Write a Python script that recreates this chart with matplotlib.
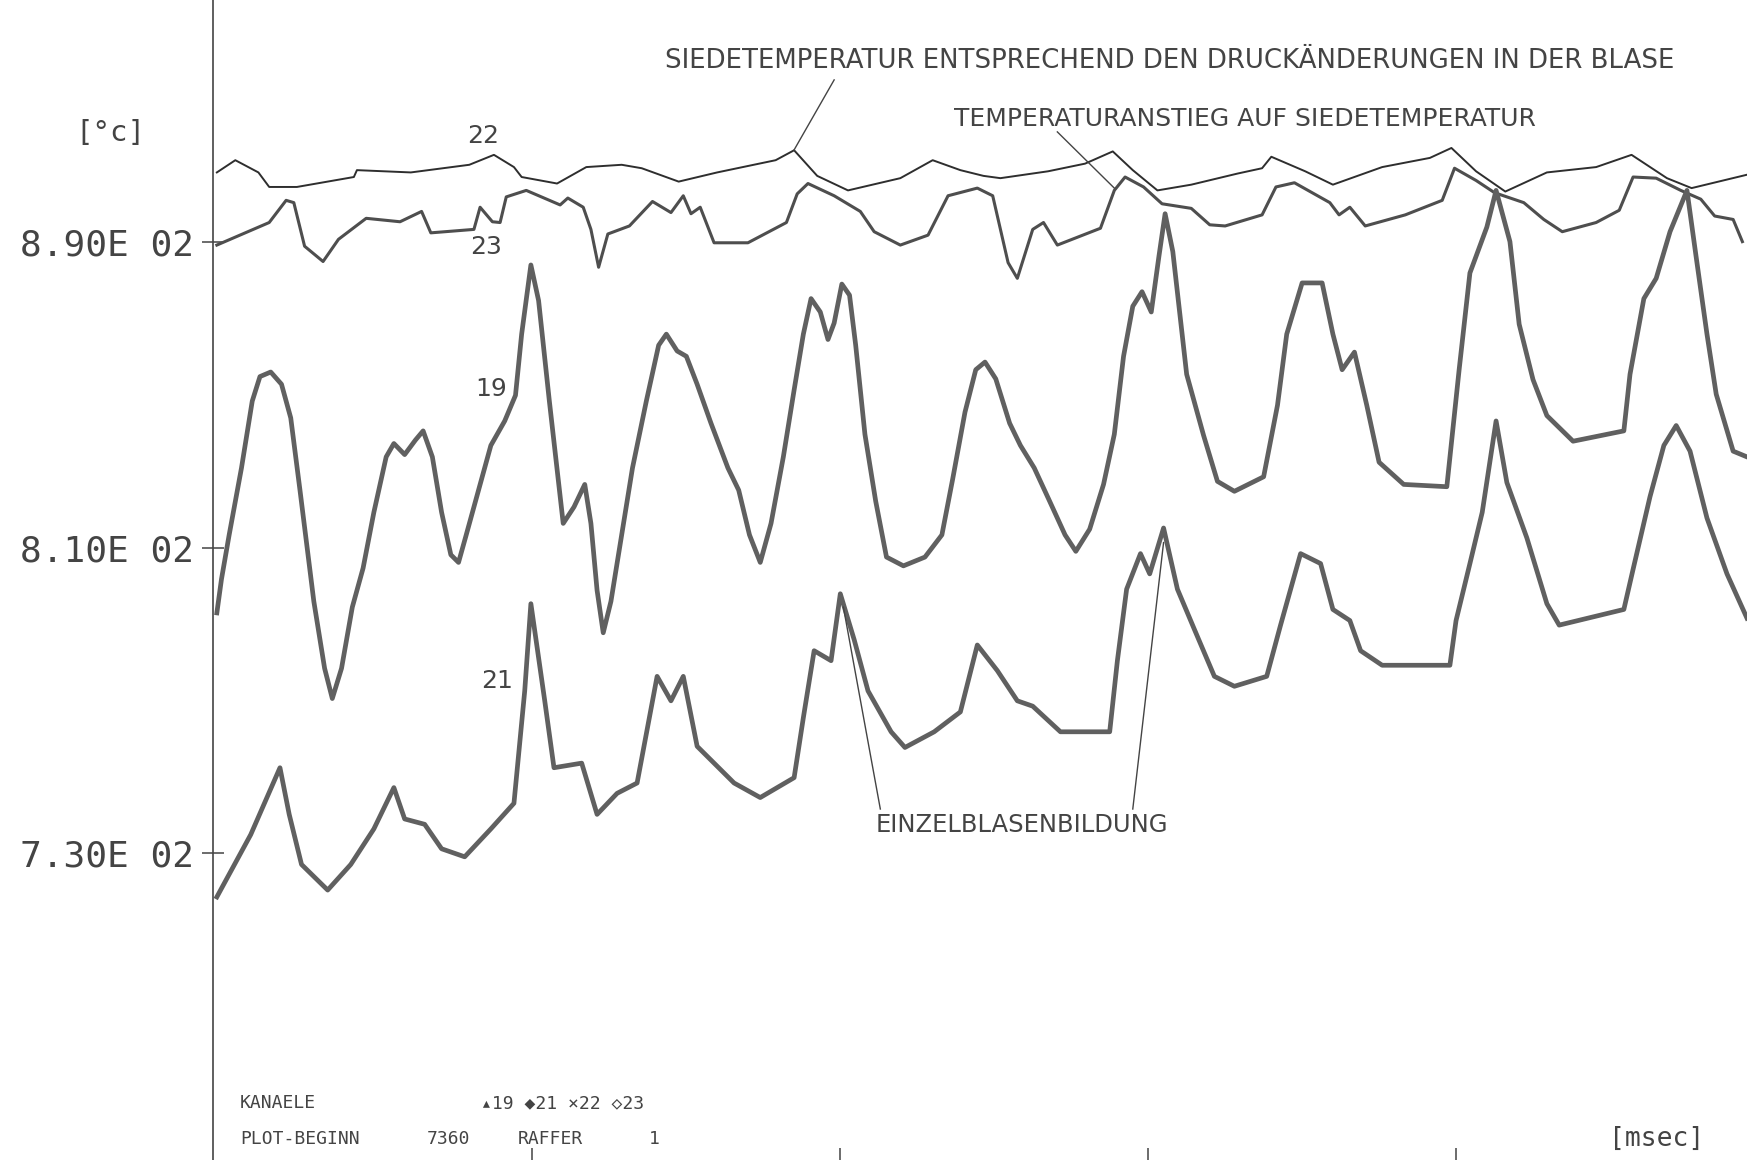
import matplotlib
matplotlib.use("Agg")
import matplotlib.pyplot as plt
from matplotlib import font_manager

# --- data (time in msec, temperature in degC) ---
t19 = [7359.5, 7359.8, 7360.3, 7361.1, 7361.8, 7362.3, 7363.0, 7363.7, 7364.3, 7364.9,
       7365.8, 7366.5, 7367.0, 7367.6, 7368.3, 7369.0, 7369.7, 7370.5, 7371.0, 7371.7,
       7372.4, 7372.9, 7373.5, 7374.1, 7374.7, 7375.2, 7375.7, 7376.5, 7377.3, 7378.2,
       7378.9, 7379.3, 7379.9, 7380.4, 7381.1, 7382.0, 7382.7, 7383.4, 7383.8, 7384.2,
       7384.6, 7385.1, 7385.8, 7386.5, 7387.4, 7388.2, 7388.7, 7389.4, 7390.0, 7390.7,
       7391.6, 7392.7, 7393.4, 7394.1, 7394.8, 7395.5, 7396.3, 7397.0, 7397.6, 7398.1,
       7398.7, 7399.2, 7399.6, 7400.1, 7400.6, 7401.0, 7401.6, 7402.3, 7403.0, 7404.1,
       7405.5, 7406.6, 7407.3, 7408.1, 7408.8, 7409.4, 7410.1, 7411.0, 7411.7, 7412.6,
       7413.6, 7414.6, 7415.3, 7416.2, 7417.1, 7417.8, 7418.4, 7419.0, 7419.6, 7420.2,
       7420.7, 7421.1, 7421.6, 7422.5, 7423.6, 7424.5, 7425.6, 7427.5, 7428.4, 7429.0,
       7430.0, 7431.3, 7432.0, 7432.6, 7433.4, 7434.2, 7435.0, 7436.6, 7439.4, 7440.2,
       7440.9, 7442.0, 7442.6, 7443.5, 7444.1, 7445.0, 7445.9, 7447.6, 7450.9, 7451.3,
       7452.2, 7453.0, 7453.9, 7455.0, 7455.6, 7456.3, 7456.9, 7458.0, 7458.9]
v19 = [792.9, 801.7, 813.3, 830.8, 848.3, 854.7, 855.9, 852.7, 843.9, 825.0,
       795.9, 778.4, 770.5, 778.4, 794.4, 804.6, 819.2, 833.7, 837.2, 834.3,
       838.1, 840.5, 833.7, 819.2, 808.1, 806.1, 813.3, 825.0, 836.7, 843.1,
       849.8, 865.8, 883.9, 874.6, 848.3, 816.3, 820.6, 826.5, 816.3, 798.8,
       787.7, 795.9, 813.3, 830.8, 848.3, 862.9, 865.8, 861.4, 860.0, 852.7,
       842.5, 830.8, 825.0, 813.3, 806.1, 816.3, 833.7, 851.2, 865.8, 875.1,
       871.6, 864.4, 868.7, 878.9, 876.0, 862.9, 839.6, 822.1, 807.5, 805.2,
       807.5, 813.3, 827.9, 845.4, 856.5, 858.5, 854.1, 842.5, 836.7, 830.8,
       822.1, 813.3, 809.0, 814.8, 826.5, 839.6, 860.0, 873.1, 876.9, 871.6,
       886.2, 897.3, 887.4, 855.3, 839.3, 827.3, 824.7, 828.5, 847.2, 865.8,
       879.2, 879.2, 865.8, 856.5, 861.1, 847.2, 832.3, 826.5, 825.9, 856.5,
       881.8, 893.8, 903.4, 890.0, 868.4, 853.9, 844.5, 837.8, 840.5, 855.3,
       875.1, 880.4, 892.6, 903.4, 885.9, 865.8, 850.1, 835.2, 833.7]

t21 = [7359.5, 7361.7, 7363.6, 7364.2, 7365.0, 7366.7, 7368.2, 7369.7, 7371.0, 7371.7,
       7373.0, 7374.1, 7375.6, 7377.3, 7378.8, 7379.5, 7379.9, 7380.8, 7381.4, 7383.2,
       7384.2, 7385.5, 7386.8, 7388.1, 7389.0, 7389.8, 7390.7, 7393.1, 7394.8, 7397.0,
       7397.6, 7398.3, 7399.4, 7400.0, 7400.9, 7401.8, 7403.3, 7404.2, 7406.1, 7407.8,
       7408.9, 7410.2, 7411.5, 7412.5, 7414.3, 7417.5, 7418.0, 7418.6, 7419.5, 7420.1,
       7421.0, 7421.9, 7423.0, 7424.3, 7425.6, 7427.7, 7428.6, 7429.9, 7431.2, 7432.0,
       7433.1, 7433.8, 7435.2, 7439.6, 7440.0, 7440.9, 7441.7, 7442.6, 7443.3, 7444.6,
       7445.9, 7446.7, 7450.9, 7451.5, 7452.6, 7453.5, 7454.3, 7455.2, 7456.3, 7457.6,
       7458.9]
v21 = [718.6, 734.9, 752.4, 740.2, 727.1, 720.4, 727.1, 736.4, 747.2, 739.0,
       737.6, 731.2, 729.1, 736.4, 743.1, 772.5, 795.3, 769.9, 752.4, 753.6,
       740.2, 745.7, 748.4, 776.3, 769.9, 776.3, 758.0, 748.4, 744.6, 749.8,
       765.5, 783.0, 780.4, 797.9, 785.9, 772.5, 761.8, 757.7, 761.8, 767.0,
       784.5, 777.8, 769.9, 768.5, 761.8, 761.8, 780.4, 799.1, 808.4, 803.1,
       815.1, 799.1, 788.6, 776.3, 773.7, 776.3, 789.7, 808.4, 805.8, 793.8,
       790.9, 783.0, 779.2, 779.2, 790.9, 805.8, 819.2, 843.1, 827.0, 812.5,
       795.3, 789.7, 793.8, 804.3, 823.3, 836.7, 841.9, 835.2, 817.7, 803.1,
       791.5]

t22 = [7359.5, 7360.7, 7362.2, 7362.9, 7364.7, 7368.4, 7368.6, 7372.1, 7375.9, 7377.5,
       7378.8, 7379.3, 7381.6, 7383.5, 7385.8, 7387.1, 7389.5, 7392.0, 7395.8, 7397.0,
       7398.5, 7400.5, 7403.9, 7406.0, 7407.8, 7409.3, 7410.4, 7413.5, 7415.9, 7417.7,
       7419.0, 7420.6, 7422.8, 7425.8, 7427.4, 7428.0, 7430.2, 7432.0, 7435.2, 7438.3,
       7439.7, 7441.3, 7443.2, 7445.9, 7449.1, 7451.4, 7453.7, 7455.3, 7458.9]
v22 = [908.1, 911.3, 908.1, 904.3, 904.3, 906.9, 908.7, 908.1, 910.1, 912.7,
       909.5, 906.9, 905.2, 909.5, 910.1, 909.2, 905.7, 908.1, 911.3, 913.9,
       907.2, 903.4, 906.6, 911.3, 908.7, 907.2, 906.6, 908.4, 910.4, 913.6,
       908.7, 903.4, 904.9, 907.8, 909.2, 912.2, 908.4, 904.9, 909.5, 911.9,
       914.5, 908.4, 903.1, 908.1, 909.5, 912.7, 906.6, 904.0, 907.5]

t23 = [7359.5, 7362.9, 7364.0, 7364.5, 7365.2, 7366.4, 7367.4, 7369.2, 7371.4, 7372.8,
       7373.4, 7376.2, 7376.6, 7377.4, 7377.9, 7378.3, 7379.6, 7381.8, 7382.3, 7383.3,
       7383.8, 7384.3, 7384.9, 7386.3, 7387.8, 7389.0, 7389.8, 7390.3, 7390.9, 7391.8,
       7394.0, 7396.5, 7397.2, 7397.9, 7399.6, 7401.3, 7402.2, 7403.9, 7405.7, 7407.0,
       7408.9, 7409.9, 7410.9, 7411.5, 7412.5, 7413.2, 7414.1, 7416.9, 7417.8, 7418.5,
       7419.7, 7420.9, 7422.8, 7424.0, 7425.0, 7427.4, 7428.3, 7429.5, 7431.8, 7432.4,
       7433.1, 7434.1, 7436.7, 7439.1, 7439.9, 7441.3, 7442.5, 7444.4, 7445.7, 7446.9,
       7449.1, 7450.6, 7451.5, 7453.0, 7454.6, 7455.9, 7456.8, 7458.0, 7458.6]
v23 = [889.1, 895.0, 900.8, 900.2, 888.8, 884.8, 890.6, 896.1, 895.2, 897.9,
       892.3, 893.2, 899.0, 895.2, 895.0, 901.7, 903.4, 899.6, 901.4, 899.0,
       893.2, 883.3, 892.0, 894.1, 900.5, 897.6, 902.0, 897.3, 899.0, 889.7,
       889.7, 895.0, 902.5, 905.2, 902.0, 897.9, 892.6, 889.1, 891.7, 902.0,
       904.0, 902.0, 884.5, 880.4, 893.2, 895.0, 889.1, 893.5, 903.4, 906.9,
       904.3, 899.9, 898.7, 894.4, 894.1, 897.0, 904.3, 905.4, 900.2, 897.0,
       899.0, 894.1, 897.0, 900.8, 909.2, 906.0, 902.8, 900.2, 895.8, 892.6,
       895.0, 898.2, 906.9, 906.6, 903.4, 901.1, 896.7, 895.8, 890.0]

ytick_vals = [730, 810, 890]
ytick_labels = ["7.30E 02", "8.10E 02", "8.90E 02"]
xtick_vals = [7380, 7400, 7420, 7440]

# channel labels: (text, t, value)
channel_labels = [("22", 7376.8, 917.7), ("23", 7377.0, 888.5),
                  ("19", 7377.3, 851.5), ("21", 7377.7, 775.2)]

# --- fonts ---
names = {f.name for f in font_manager.fontManager.ttflist}
narrow = "Liberation Sans Narrow" if "Liberation Sans Narrow" in names else "DejaVu Sans"
mono = "DejaVu Sans Mono"
ink = "#444444"

W, H = 1747, 1160
fig = plt.figure(figsize=(W / 100, H / 100), dpi=100)
ax = fig.add_axes([213 / W, 0, 1 - 213 / W, 1])

ax.plot(t22, v22, color="#2e2e2e", lw=1.4)
ax.plot(t23, v23, color="#4e4e4e", lw=2.2)
ax.plot(t19, v19, color="#606060", lw=3.4, solid_joinstyle="round")
ax.plot(t21, v21, color="#606060", lw=3.4, solid_joinstyle="round")

ax.set_xlim(7359.25, 7458.9)
ax.set_ylim(649.8, 953.2)

for s in ["top", "right", "bottom"]:
    ax.spines[s].set_visible(False)
ax.spines["left"].set_color(ink)
ax.spines["left"].set_linewidth(1.2)

ax.set_yticks(ytick_vals)
ax.set_yticklabels(ytick_labels, fontfamily=mono, fontsize=26, color=ink)
ax.tick_params(axis="y", direction="inout", length=16, width=1.1, pad=6, colors=ink)
ax.set_xticks(xtick_vals)
ax.set_xticklabels([])
ax.tick_params(axis="x", direction="in", length=9, width=1.1, colors=ink)

for txt, t, v in channel_labels:
    ax.text(t, v, txt, fontfamily=narrow, fontsize=18, color=ink, ha="center", va="center")

# annotations
ax.text(7421.4, 937.3, "SIEDETEMPERATUR ENTSPRECHEND DEN DRUCKÄNDERUNGEN IN DER BLASE",
        fontfamily=narrow, fontsize=18.7, color=ink, ha="center", va="center")
ax.plot([7399.6, 7397.0], [932.3, 914.0], color=ink, lw=1)

ax.text(7426.3, 922.1, "TEMPERATURANSTIEG AUF SIEDETEMPERATUR",
        fontfamily=narrow, fontsize=18, color=ink, ha="center", va="center")
ax.plot([7414.1, 7417.8], [918.7, 904.0], color=ink, lw=1)

ax.text(7411.8, 737.3, "EINZELBLASENBILDUNG", fontfamily="DejaVu Sans",
        fontsize=17.5, color=ink, ha="center", va="center")
ax.plot([7402.6, 7400.2], [741.6, 794.4], color=ink, lw=1)
ax.plot([7419.0, 7421.0], [741.6, 811.3], color=ink, lw=1)

# unit labels
fig.text(110 / W, 1 - 133 / H, "[°c]", fontfamily=mono, fontsize=21,
         color=ink, ha="center", va="center")
fig.text(1657 / W, 1 - 1139 / H, "[msec]", fontfamily=mono, fontsize=19,
         color=ink, ha="center", va="center")

# plotter info block
small = dict(fontfamily=[mono, "DejaVu Sans"], fontsize=13, color=ink, va="center", ha="left")
fig.text(240 / W, 1 - 1103 / H, "KANAELE", **small)
fig.text(481 / W, 1 - 1103 / H, "▴19 ◆21 ×22 ◇23", **small)
fig.text(240 / W, 1 - 1139 / H, "PLOT-BEGINN", **small)
fig.text(427 / W, 1 - 1139 / H, "7360", **small)
fig.text(518 / W, 1 - 1139 / H, "RAFFER", **small)
fig.text(649 / W, 1 - 1139 / H, "1", **small)

fig.savefig("out.png", dpi=100, facecolor="white")
